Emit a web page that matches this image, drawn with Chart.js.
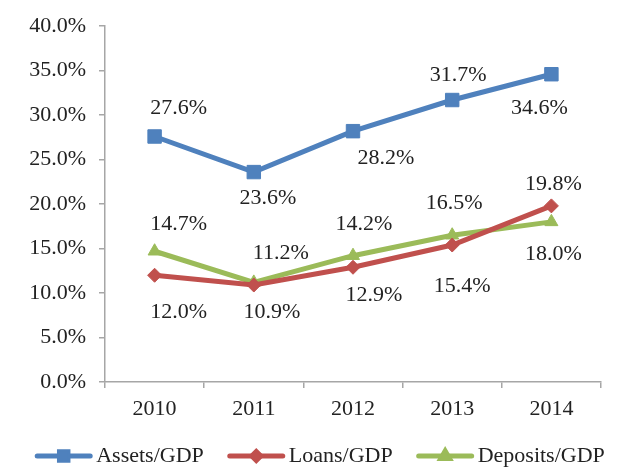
<!DOCTYPE html>
<html>
<head>
<meta charset="utf-8">
<script src="https://cdn.jsdelivr.net/npm/chart.js@4.4.1/dist/chart.umd.min.js"></script>
<style>
  html, body { margin: 0; padding: 0; background: #fff; }
  #wrap { width: 630px; height: 476px; }
</style>
</head>
<body>
<div id="wrap"><canvas id="chart" width="630" height="476"></canvas></div>
<script>
const years = ['2010', '2011', '2012', '2013', '2014'];
const assets = [27.6, 23.6, 28.2, 31.7, 34.6];
const loans = [12.0, 10.9, 12.9, 15.4, 19.8];
const deposits = [14.7, 11.2, 14.2, 16.5, 18.0];
const yTicks = [0, 5, 10, 15, 20, 25, 30, 35, 40];

// where each value label sits relative to its point (dx, dy in px)
const assetsLabelPos = [[24, -28], [14, 26], [33, 27], [6, -25], [-12, 34]];
const loansLabelPos = [[24, 37], [18, 27], [21, 28], [10, 41], [2, -22]];
const depositsLabelPos = [[24, -27], [27, -29], [11, -31], [2, -32], [2, 32]];

const FONT = "'Liberation Serif', 'Times New Roman', serif";
const FSIZE = 22;
const TEXT = '#222222';
const AXIS = '#a6a6a6';

const series = [
  { label: 'Assets/GDP', data: assets, color: '#4f81bd', marker: 'rect', radius: 9.5, legendRadius: 6, pos: assetsLabelPos },
  { label: 'Loans/GDP', data: loans, color: '#c0504d', marker: 'rectRot', radius: 7, legendRadius: 4.5, pos: loansLabelPos },
  { label: 'Deposits/GDP', data: deposits, color: '#9bbb59', marker: 'triangle', radius: 7.5, legendRadius: 5, pos: depositsLabelPos }
];

const valueLabels = {
  id: 'valueLabels',
  afterDatasetsDraw(chart) {
    const ctx = chart.ctx;
    ctx.save();
    ctx.font = FSIZE + 'px ' + FONT;
    ctx.fillStyle = TEXT;
    ctx.textAlign = 'center';
    ctx.textBaseline = 'middle';
    chart.data.datasets.forEach((ds, i) => {
      const meta = chart.getDatasetMeta(i);
      meta.data.forEach((pt, j) => {
        const p = series[i].pos[j];
        ctx.fillText(ds.data[j].toFixed(1) + '%', pt.x + p[0], pt.y + p[1]);
      });
    });
    ctx.restore();
  }
};

const bottomLegend = {
  id: 'bottomLegend',
  afterDraw(chart) {
    const ctx = chart.ctx;
    const lineLen = 57, gap = 4, itemGap = 24, y = 456;
    ctx.save();
    ctx.font = FSIZE + 'px ' + FONT;
    const widths = series.map(s => lineLen + gap + ctx.measureText(s.label).width);
    const total = widths.reduce((a, b) => a + b, 0) + itemGap * (series.length - 1);
    let x = 320 - total / 2;
    series.forEach((s, i) => {
      ctx.strokeStyle = s.color;
      ctx.lineWidth = 5;
      ctx.lineCap = 'round';
      ctx.beginPath();
      ctx.moveTo(x + 2, y);
      ctx.lineTo(x + lineLen - 2, y);
      ctx.stroke();
      Chart.helpers.drawPoint(ctx, {
        pointStyle: s.marker, radius: s.legendRadius, borderWidth: 1, rotation: 0
      }, x + lineLen / 2, y);
      ctx.fillStyle = s.color;
      ctx.fill();
      ctx.fillStyle = TEXT;
      ctx.textAlign = 'left';
      ctx.textBaseline = 'middle';
      ctx.fillText(s.label, x + lineLen + gap, y);
      x += widths[i] + itemGap;
    });
    ctx.restore();
  }
};

new Chart(document.getElementById('chart'), {
  type: 'line',
  data: {
    labels: years,
    datasets: series.map(s => ({
      label: s.label,
      data: s.data,
      borderColor: s.color,
      backgroundColor: s.color,
      borderWidth: 5,
      pointStyle: s.marker,
      pointRadius: s.radius,
      pointBorderWidth: 1,
      pointBackgroundColor: s.color,
      pointBorderColor: s.color,
      tension: 0,
      fill: false
    }))
  },
  options: {
    responsive: false,
    animation: false,
    events: [],
    layout: { padding: { top: 25, right: 29, bottom: 54, left: 0 } },
    plugins: {
      legend: { display: false },
      tooltip: { enabled: false }
    },
    scales: {
      x: {
        offset: true,
        grid: { display: true, offset: true, drawOnChartArea: false, drawTicks: true, tickLength: 6, color: AXIS, lineWidth: 1.5 },
        border: { display: true, color: AXIS, width: 1.5 },
        ticks: { color: TEXT, font: { family: FONT, size: FSIZE }, padding: 8, maxRotation: 0 },
        afterFit(scale) { scale.height = 40; }
      },
      y: {
        min: 0,
        max: 40,
        afterBuildTicks(scale) { scale.ticks = yTicks.map(v => ({ value: v })); },
        grid: { display: true, drawOnChartArea: false, drawTicks: true, tickLength: 6, color: AXIS, lineWidth: 1.5 },
        border: { display: true, color: AXIS, width: 1.5 },
        ticks: {
          color: TEXT, font: { family: FONT, size: FSIZE }, padding: 13,
          callback: v => v.toFixed(1) + '%'
        },
        afterFit(scale) { scale.width = 105; }
      }
    }
  },
  plugins: [valueLabels, bottomLegend]
});
</script>
</body>
</html>
